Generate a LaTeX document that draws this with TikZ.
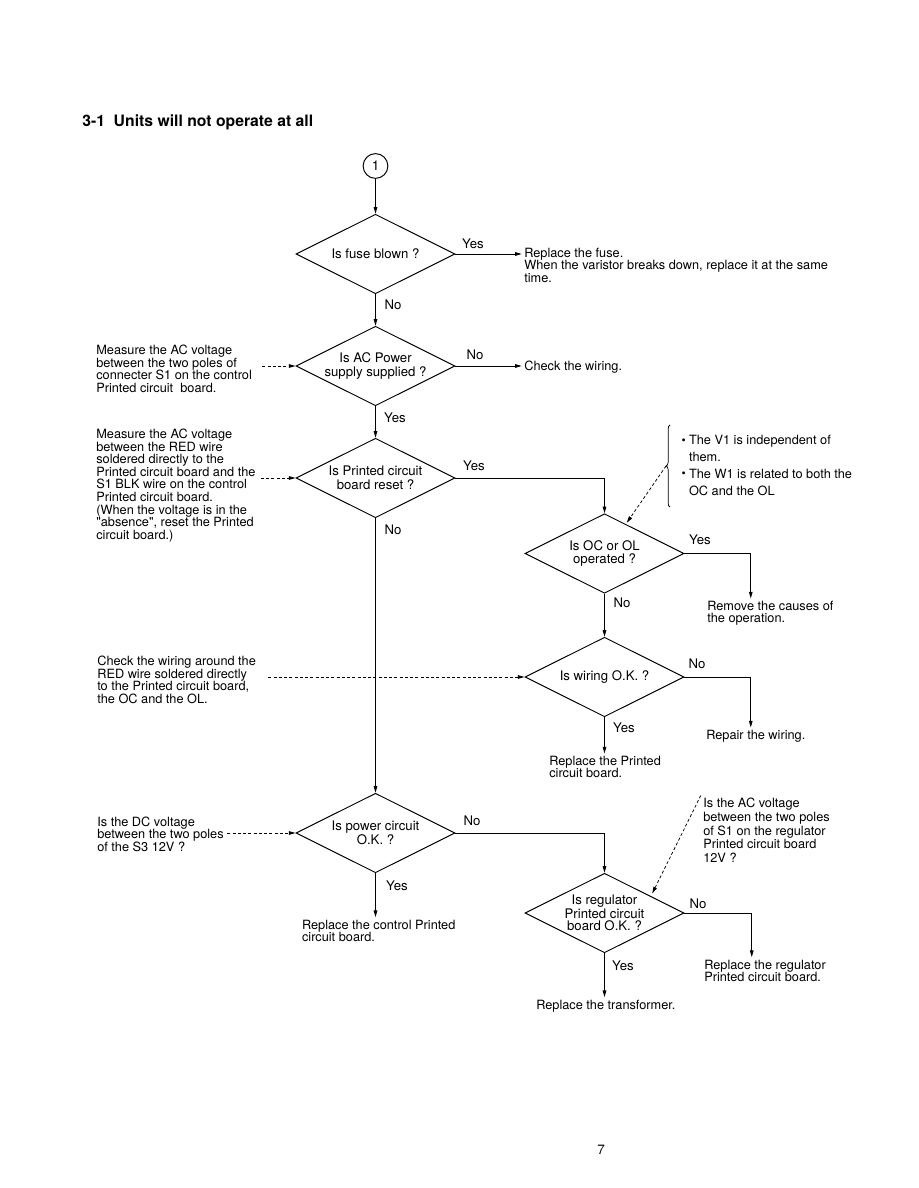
\documentclass[tikz,border=0pt]{standalone}
\usepackage{fontspec}
\setmainfont{TeX Gyre Heros}[Ligatures=TeXOff]
\usetikzlibrary{arrows.meta, shapes.geometric, calc, decorations.pathreplacing}

\newcommand\bul{\makebox[5pt][l]{\raisebox{0.05ex}{\fontsize{8}{8}\selectfont\textbullet}}}

\begin{document}
\begin{tikzpicture}[
    x=0.6667pt, y=-0.6667pt,
    every node/.style={font=\fontsize{8.5}{8.4}\selectfont},
    dia/.style={diamond, draw, line width=0.65pt, aspect=2, minimum width=106pt,
        minimum height=53pt, inner sep=0pt, align=center,
        font=\fontsize{8.8}{9}\selectfont},
    start/.style={circle, draw, line width=0.65pt, minimum size=16.5pt, inner sep=0pt,
        font=\fontsize{9}{10}\selectfont},
    note/.style={align=left, inner sep=1.5pt, anchor=north west},
    yn/.style={font=\fontsize{8.8}{10}\selectfont, inner sep=0pt},
    flow/.style={line width=0.65pt, -{Triangle[length=4.5pt, width=2.4pt]}},
    hint/.style={line width=0.5pt, dash pattern=on 2pt off 1.5pt,
        -{Triangle[length=4.5pt, width=2.4pt]}},
]

\useasboundingbox (0,0) rectangle (918,1188);
\fill[white] (0,0) rectangle (918,1188);

% ---------------------------------------------------------------- heading
\node[anchor=west, inner sep=0pt, font=\fontsize{10.5}{12}\selectfont\bfseries] (title) at (82,122)
    {3-1\hspace{0.55em}Units will not operate at all};

% ---------------------------------------------------------------- questions
\node[start] (c1) at (375.5,166) {1};
\node[dia] (d1) at (375.5,254) {Is fuse blown ?};
\node[dia] (d2) at (375.5,366) {Is AC Power\\supply supplied ?};
\node[dia] (d3) at (375.5,478) {Is Printed circuit\\board reset ?};
\node[dia] (d4) at (604.5,553.5) {Is OC or OL\\operated ?};
\node[dia] (d5) at (604.5,677) {Is wiring O.K. ?};
\node[dia] (d6) at (375.5,833) {Is power circuit\\O.K. ?};
\node[dia, font=\fontsize{8.8}{7.9}\selectfont] (d7) at (604.5,913)
    {Is regulator\\Printed circuit\\board O.K. ?};

% ---------------------------------------------------------------- remedies
\node[note] (r1) at (521.75,245.5)
    {Replace the fuse.\\When the varistor breaks down, replace it at the same\\time.};
\node[note, anchor=west] (r2) at (521.75,367) {Check the wiring.};
\node[note] (r4) at (704.75,598.5) {Remove the causes of\\the operation.};
\node[note] (r5a) at (703.75,727.5) {Repair the wiring.};
\node[note] (r5b) at (546.75,753.5) {Replace the Printed\\circuit board.};
\node[note] (r6) at (299.5,917.2) {Replace the control Printed\\circuit board.};
\node[note] (r7a) at (701.75,957.2) {Replace the regulator\\Printed circuit board.};
\node[note] (r7b) at (533.75,997.2) {Replace the transformer.};

% ---------------------------------------------------------------- checks
\node[note] (n2) at (93.75,342.5)
    {Measure the AC voltage\\between the two poles of\\connecter S1 on the control\\Printed circuit~ board.};
\node[note] (n3) at (93.75,426.5)
    {Measure the AC voltage\\between the RED wire\\soldered directly to the\\Printed circuit board and the\\S1 BLK wire on the control\\Printed circuit board.\\(When the voltage is in the\\"absence", reset the Printed\\circuit board.)};
\node[note] (n5) at (94.75,653.5)
    {Check the wiring around the\\RED wire soldered directly\\to the Printed circuit board,\\the OC and the OL.};
\node[note] (n6) at (94.75,814)
    {Is the DC voltage\\between the two poles\\of the S3 12V ?};
\node[note, font=\fontsize{8.5}{9.2}\selectfont] (n7) at (700.75,795.5)
    {Is the AC voltage\\between the two poles\\of S1 on the regulator\\Printed circuit board\\12V ?};
\node[note, font=\fontsize{8.5}{11.3}\selectfont] (n4) at (679,432.5)
    {\bul The V1 is independent of\\\hspace{5pt}them.\\\bul The W1 is related to both the\\\hspace{5pt}OC and the OL};

\coordinate (brlo) at (670,507);
\coordinate (brhi) at (670,425);
\coordinate (brtip) at (666,466);
\draw[decorate, decoration={brace, amplitude=2.5pt}, line width=0.5pt] (brlo) -- (brhi);

% ---------------------------------------------------------------- yes / no
\node[yn] (d1y) at (473,244) {Yes};
\node[yn] (d1n) at (393,305) {No};
\node[yn] (d2n) at (475,355) {No};
\node[yn] (d2y) at (395,418) {Yes};
\node[yn] (d3y) at (474,466) {Yes};
\node[yn] (d3n) at (393,530) {No};
\node[yn] (d4y) at (700,540) {Yes};
\node[yn] (d4n) at (622,603) {No};
\node[yn] (d5n) at (697,664) {No};
\node[yn] (d5y) at (624,728) {Yes};
\node[yn] (d6n) at (472,821) {No};
\node[yn] (d6y) at (397,886) {Yes};
\node[yn] (d7n) at (698,904) {No};
\node[yn] (d7y) at (623,966) {Yes};

% ---------------------------------------------------------------- flow lines
\draw[flow] (c1) -- (d1);
\draw[flow] (d1.east) -- (d1.east -| r1.west);
\draw[flow] (d1) -- (d2);
\draw[flow] (d2.east) -- (d2.east -| r2.west);
\draw[flow] (d2) -- (d3);
\draw[flow] (d3.east) -| (d4.north);
\draw[flow] (d3) -- (d6);
\draw[flow] (d4.east) -| ($(r4.north west)+(46,0)$);
\draw[flow] (d4) -- (d5);
\draw[flow] (d5.east) -| ($(r5a.north west)+(47,0)$);
\draw[flow] (d5.south) -- (d5.south |- r5b.north);
\draw[flow] (d6.east) -| (d7.north);
\draw[flow] (d6.south) -- (d6.south |- r6.north);
\draw[flow] (d7.east) -| ($(r7a.north west)+(50,0)$);
\draw[flow] (d7.south) -- (d7.south |- r7b.north);

% dashed pointers from the checks
\draw[hint] ($(n2.east |- d2.west)+(8,0)$) -- (d2.west);
\draw[hint] ($(n3.east |- d3.west)+(3,0)$) -- (d3.west);
\draw[hint] ($(n5.east |- d5.west)+(10,0)$) -- (d5.west);
\draw[hint] ($(n6.east |- d6.west)+(1,0)$) -- (d6.west);
\draw[hint, shorten >=1pt] (brtip) -- (d4.54);
\draw[hint, shorten >=2pt] (n7.north west) -- (d7.20);

\node[font=\fontsize{9}{10}\selectfont] (pg) at (601,1150) {7};

\end{tikzpicture}
\end{document}
